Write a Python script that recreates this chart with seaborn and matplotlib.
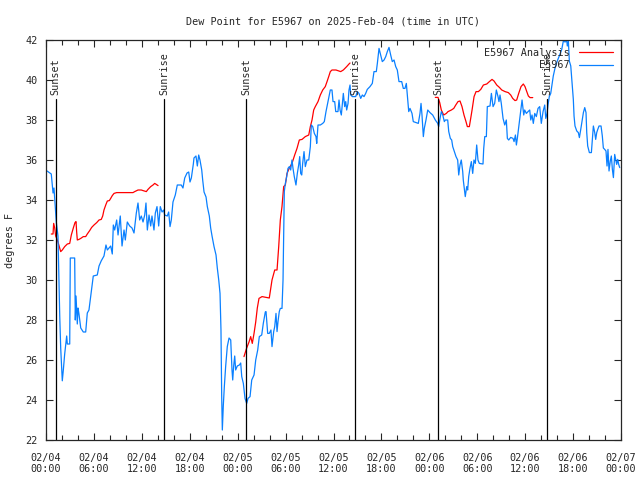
import pandas as pd
import seaborn as sns
import matplotlib.pyplot as plt
import matplotlib.dates as mdates

# hours after 2025-02-04 00:00 UTC and dew point (F)
obs_hours = [0.13, 0.66, 0.88, 1.0, 1.13, 1.29, 1.5, 1.59, 1.72, 1.84, 1.97, 2.04, 2.17, 2.34, 2.5, 2.59,
             2.67, 2.97, 3.04, 3.59, 3.67, 3.76, 3.92, 4.01, 4.13, 4.35, 4.67, 4.97, 5.17, 5.38, 5.6, 5.92,
             6.42, 6.64, 6.92, 7.26, 7.51, 7.68, 8.1, 8.3, 8.43, 8.6, 8.85, 9.02, 9.3, 9.52, 9.77, 9.93,
             10.18, 10.48, 10.77, 11.02, 11.31, 11.52, 11.73, 11.93, 12.15, 12.36, 12.52, 12.69, 12.9, 13.11,
             13.27, 13.52, 13.69, 13.9, 14.11, 14.31, 14.53, 14.74, 14.86, 15.19, 15.36, 15.53, 15.69, 15.9,
             16.19, 16.44, 16.94, 17.15, 17.37, 17.66, 17.87, 18.03, 18.2, 18.45, 18.53, 18.78, 18.95, 19.12,
             19.28, 19.5, 19.62, 19.79, 20.04, 20.2, 20.45, 20.62, 20.79, 21.04, 21.29, 21.45, 21.63, 21.79,
             21.91, 22.0, 22.08, 22.2, 22.33, 22.5, 22.7, 22.92, 23.13, 23.2, 23.29, 23.38, 23.5, 23.63,
             23.75, 23.95, 24.21, 24.38, 24.51, 24.71, 24.92, 25.13, 25.3, 25.55, 25.76, 26.05, 26.26, 26.51,
             26.71, 27.01, 27.21, 27.46, 27.55, 27.76, 27.96, 28.17, 28.3, 28.51, 28.64, 28.8, 28.93, 29.05,
             29.21, 29.34, 29.55, 29.68, 29.76, 29.84, 29.97, 30.14, 30.3, 30.47, 30.64, 30.8, 30.93, 31.09,
             31.3, 31.47, 31.64, 31.77, 31.89, 32.02, 32.14, 32.31, 32.47, 32.68, 32.9, 33.1, 33.22, 33.4,
             33.6, 33.81, 33.9, 34.06, 34.35, 34.65, 34.85, 35.06, 35.31, 35.6, 35.81, 35.94, 36.15, 36.28,
             36.56, 36.69, 36.82, 36.98, 37.23, 37.4, 37.53, 37.65, 37.82, 37.94, 38.07, 38.16, 38.36, 38.78,
             38.98, 39.19, 39.41, 39.61, 39.82, 40.03, 40.23, 40.57, 40.86, 41.07, 41.36, 41.49, 41.7, 41.91,
             42.11, 42.33, 42.54, 42.74, 42.95, 43.16, 43.36, 43.58, 43.79, 43.99, 44.2, 44.54, 44.74, 44.95,
             45.12, 45.29, 45.42, 45.58, 45.83, 45.99, 46.62, 46.83, 46.96, 47.08, 47.25, 47.37, 47.58, 47.8,
             48.08, 48.42, 48.75, 49.05, 49.17, 49.34, 49.5, 49.68, 49.88, 50.0, 50.3, 50.43, 50.63, 50.8,
             50.93, 51.13, 51.34, 51.55, 51.68, 51.84, 52.0, 52.18, 52.25, 52.38, 52.5, 52.68, 52.8, 52.93,
             53.09, 53.26, 53.43, 53.59, 53.76, 53.93, 54.09, 54.26, 54.72, 54.81, 54.94, 55.14, 55.26, 55.6,
             55.77, 55.98, 56.18, 56.39, 56.6, 56.72, 56.85, 57.01, 57.23, 57.44, 57.64, 57.77, 57.94, 58.19,
             58.48, 58.61, 58.78, 58.9, 59.02, 59.2, 59.39, 59.61, 59.82, 59.94, 60.15, 60.36, 60.57, 60.7,
             60.86, 61.02, 61.2, 61.4, 61.61, 61.82, 62.02, 62.24, 62.45, 62.58, 62.74, 62.86, 63.02, 63.2,
             63.36, 63.52, 63.74, 64.02, 64.27, 64.58, 64.78, 64.99, 65.21, 65.28, 65.41, 65.53, 65.71, 65.87,
             66.03, 66.12, 66.24, 66.46, 66.66, 66.79, 66.96, 67.12, 67.29, 67.46, 67.62, 67.71, 67.83, 68.04,
             68.29, 68.41, 68.54, 68.71, 68.83, 68.96, 69.09, 69.25, 69.5, 69.66, 69.79, 69.96, 70.12, 70.25,
             70.37, 70.5, 70.66, 70.79, 70.92, 71.05, 71.21, 71.34, 71.46, 71.59, 71.71, 71.84]
obs_dewpt = [35.45, 35.3, 34.35, 34.6, 33.8, 32.9, 32.2, 30.5, 28.2, 26.6, 25.5, 24.96, 25.5, 26.3, 26.85, 27.2,
             26.8, 26.8, 31.1, 31.1, 28.0, 29.2, 27.8, 28.6, 28.3, 27.6, 27.4, 27.4, 28.35, 28.5, 29.2, 30.2,
             30.25, 30.7, 30.96, 31.2, 31.75, 31.5, 31.7, 31.3, 32.75, 32.5, 33.0, 32.25, 33.2, 31.7, 32.5, 32.0,
             32.9, 32.7, 32.6, 32.35, 33.35, 33.85, 33.0, 33.2, 32.9, 33.25, 33.85, 32.5, 33.25, 32.7,
             33.2, 32.5, 33.35, 33.67, 32.7, 33.67, 33.4, 33.5, 33.25, 33.2, 33.4, 32.67, 33.0, 33.9,
             34.25, 34.75, 34.75, 34.6, 35.1, 35.35, 35.4, 34.9, 35.1, 35.8, 36.1, 36.2, 35.7, 36.25,
             36.0, 35.5, 35.0, 34.4, 34.15, 33.67, 33.2, 32.6, 32.2, 31.67, 31.25, 30.6, 30.0, 29.33,
             27.5, 24.17, 22.5, 23.7, 24.67, 25.7, 26.67, 27.1, 27.0, 26.3, 25.5, 25.0, 25.7, 26.2,
             25.5, 25.7, 25.75, 25.85, 25.17, 24.83, 24.08, 23.83, 24.08, 24.17, 25.0, 25.25, 26.0, 26.5,
             27.17, 27.25, 27.83, 28.4, 28.42, 27.33, 27.33, 27.5, 26.67, 27.42, 27.67, 28.33, 27.42, 27.92,
             28.42, 28.58, 28.58, 30.0, 32.33, 34.42, 34.83, 35.17, 35.58, 35.67, 35.5, 36.0, 35.58, 35.17,
             34.75, 35.33, 35.75, 36.17, 35.33, 35.25, 35.83, 36.42, 35.67, 36.0, 36.0, 36.67, 37.75, 37.67,
             37.33, 37.17, 36.83, 37.75, 37.75, 37.83, 37.92, 38.42, 38.92, 39.5, 39.5, 38.92, 38.92, 38.42,
             38.42, 39.0, 38.5, 38.25, 39.33, 38.67, 38.92, 38.5, 38.83, 39.5, 39.75, 39.25, 39.17, 39.17,
             39.42, 39.33, 39.08, 39.25, 39.17, 39.33, 39.53, 39.67, 39.83, 40.42, 40.42, 40.83, 41.58, 41.25,
             40.92, 41.0, 41.17, 41.42, 41.63, 41.25, 40.92, 41.0, 40.67, 40.5, 39.92, 39.92, 39.58, 39.58,
             39.83, 39.0, 38.42, 38.58, 38.33, 37.92, 37.83, 38.33, 38.83, 38.25, 37.17, 37.58, 38.0, 38.5,
             38.37, 38.25, 38.0, 37.83, 37.67, 38.08, 38.42, 38.25, 37.92, 38.0, 38.0, 37.42, 37.08, 37.0,
             36.67, 36.42, 36.17, 36.0, 35.25, 35.75, 36.0, 35.42, 35.0, 34.58, 34.17, 34.67, 34.5, 35.17,
             35.58, 35.92, 35.33, 36.0, 35.83, 36.75, 36.0, 35.83, 35.8, 36.58, 37.17, 37.17, 38.67, 38.7,
             39.33, 38.67, 38.83, 39.5, 39.17, 38.92, 39.25, 38.83, 38.08, 37.75, 38.0, 37.08, 37.0, 37.13,
             37.08, 36.92, 37.25, 36.75, 37.08, 37.67, 38.33, 39.0, 38.25, 38.5, 38.33, 38.42, 38.5, 38.0,
             38.25, 37.83, 38.33, 38.17, 38.58, 38.67, 37.83, 38.42, 38.75, 38.08, 38.33, 38.75, 39.17, 39.33,
             39.75, 40.2, 40.6, 40.95, 41.2, 41.53, 41.95, 41.9, 41.95, 41.7, 41.95, 40.95, 40.7, 39.87,
             39.03, 38.2, 37.7, 37.45, 37.37, 37.12, 37.53, 37.95, 38.37, 38.62, 38.37, 37.37, 36.7, 36.37,
             36.37, 37.03, 37.7, 37.37, 37.03, 37.37, 37.53, 37.7, 37.7, 37.2, 36.6, 36.53, 36.45, 35.7,
             36.53, 35.45, 35.95, 36.2, 35.53, 35.12, 36.28, 36.03, 35.78, 36.03, 35.78, 35.62]

# analysis runs (three separate pieces)
ana1_hours = [0.66, 0.88, 0.96, 1.09, 1.21, 1.34, 1.5, 1.84, 2.04, 2.34, 2.67, 2.97, 3.17, 3.42, 3.63, 3.76,
              3.84, 3.92, 4.13, 4.35, 4.67, 4.97, 5.17, 5.47, 5.72, 6.01, 6.35, 6.64, 6.92, 7.1, 7.26, 7.48,
              7.68, 7.93, 8.1, 8.3, 8.52, 8.85, 9.35, 10.89, 11.11, 11.52, 11.93, 12.15, 12.56, 12.77, 13.11,
              13.4, 13.61, 13.81, 14.03]
ana1_dewpt = [32.3, 32.3, 32.83, 32.6, 32.2, 32.08, 31.9, 31.42, 31.5, 31.67, 31.8, 31.83, 32.25, 32.6, 32.87, 32.92,
              32.4, 32.0, 32.03, 32.08, 32.17, 32.17, 32.3, 32.47, 32.63, 32.75, 32.87, 33.0, 33.03, 33.2, 33.5, 33.75,
              33.95, 33.97, 34.08, 34.22, 34.33, 34.37, 34.37, 34.37, 34.42, 34.5, 34.5, 34.47, 34.42, 34.53, 34.67,
              34.75, 34.83, 34.78, 34.72]
ana2_hours = [24.79, 25.13, 25.42, 25.63, 25.83, 26.05, 26.26, 26.46, 26.67, 27.05, 27.96, 28.3, 28.64, 28.93,
              29.14, 29.34, 29.55, 29.76, 29.97, 30.18, 30.47, 30.8, 31.14, 31.43, 31.72, 32.06, 32.47, 32.9,
              33.1, 33.31, 33.52, 33.72, 34.06, 34.35, 34.65, 34.97, 35.19, 35.4, 35.6, 35.81, 36.31, 36.9,
              37.23, 37.65, 37.94, 38.07]
ana2_dewpt = [26.17, 26.6, 26.9, 27.17, 26.83, 27.33, 27.9, 28.6, 29.08, 29.17, 29.1, 30.0, 30.5, 30.5,
              31.67, 33.0, 33.67, 34.67, 34.75, 35.33, 35.6, 35.83, 36.25, 36.58, 37.0, 37.03, 37.17, 37.25,
              37.67, 38.0, 38.5, 38.67, 38.92, 39.25, 39.5, 39.67, 39.92, 40.17, 40.42, 40.5, 40.5, 40.42,
              40.5, 40.67, 40.8, 40.85]
ana3_hours = [48.75, 49.09, 49.3, 49.5, 49.8, 50.13, 50.34, 50.76, 51.06, 51.31, 51.59, 51.84, 52.09, 52.34,
              52.59, 52.76, 53.01, 53.18, 53.35, 53.6, 53.85, 54.14, 54.44, 54.77, 55.19, 55.52, 55.85, 56.1,
              56.44, 56.77, 57.07, 57.48, 57.89, 58.19, 58.44, 58.73, 58.94, 59.19, 59.48, 59.77, 59.98, 60.2,
              60.4, 60.61, 60.95]
ana3_dewpt = [39.13, 39.13, 38.87, 38.5, 38.25, 38.33, 38.42, 38.5, 38.58, 38.75, 38.92, 38.95, 38.67, 38.25,
              37.92, 37.67, 37.67, 38.08, 38.5, 39.17, 39.42, 39.42, 39.53, 39.75, 39.8, 39.92, 40.03, 39.95,
              39.75, 39.63, 39.5, 39.42, 39.37, 39.25, 39.08, 38.97, 39.0, 39.33, 39.67, 39.8, 39.67, 39.42,
              39.2, 39.12, 39.12]

sun_hours = [1.21, 14.81, 25.04, 38.73, 49.12, 62.77]
sun_labels = ["Sunset", "Sunrise", "Sunset", "Sunrise", "Sunset", "Sunrise"]

start = pd.Timestamp("2025-02-04 00:00")
def to_time(h):
    return start + pd.to_timedelta(h, unit="h")

obs = pd.DataFrame({"time": to_time(obs_hours), "dewpt": obs_dewpt})

sns.set_style("ticks")
plt.rcParams["font.family"] = ["DejaVu Sans Mono"]
fs = 7.3

fig = plt.figure(figsize=(6.4, 4.8), dpi=100)
ax = fig.add_axes([46 / 640, 40 / 480, 575 / 640, 400 / 480])

red = "#ff0000"
blue = "#0a80ff"
first = True
for hrs, vals in [(ana1_hours, ana1_dewpt), (ana2_hours, ana2_dewpt), (ana3_hours, ana3_dewpt)]:
    seg = pd.DataFrame({"time": to_time(hrs), "dewpt": vals})
    sns.lineplot(data=seg, x="time", y="dewpt", color=red, lw=0.9, ax=ax, estimator=None, sort=False,
                 label="E5967 Analysis" if first else None)
    first = False
sns.lineplot(data=obs, x="time", y="dewpt", color=blue, lw=0.9, ax=ax, estimator=None, sort=False, label="E5967")

for h, lab in zip(sun_hours, sun_labels):
    t = to_time(h)
    ax.plot([t, t], [22, 39.05], color="black", lw=0.9)
    ax.text(t, 39.25, lab, rotation=90, ha="center", va="bottom", fontsize=fs)

ax.set_xlim(start, start + pd.Timedelta(hours=72))
ax.set_ylim(22, 42)
ax.set_yticks(range(22, 43, 2))
ax.xaxis.set_major_locator(mdates.HourLocator(byhour=range(0, 24, 6)))
ax.xaxis.set_minor_locator(mdates.HourLocator(byhour=range(0, 24, 2)))
ax.xaxis.set_major_formatter(mdates.DateFormatter("%m/%d\n%H:%M"))
ax.tick_params(which="both", direction="in", top=True, right=True, labelsize=fs, width=0.8)
ax.tick_params(axis="x", which="major", length=5, pad=9)
ax.tick_params(axis="y", which="major", length=5, pad=6)
ax.tick_params(which="minor", length=3.5)
for s in ax.spines.values():
    s.set_linewidth(0.9)

ax.set_xlabel("")
ax.set_ylabel("")
fig.text(10 / 640, 0.5, "degrees F", rotation=90, ha="center", va="center", fontsize=fs)
ax.set_title("Dew Point for E5967 on 2025-Feb-04 (time in UTC)", fontsize=fs, pad=11)
ax.legend(loc="upper right", frameon=False, markerfirst=False, fontsize=fs, handlelength=3.4,
          borderaxespad=0.35, labelspacing=0.25, handletextpad=0.9)

fig.savefig("out.png", dpi=100)
